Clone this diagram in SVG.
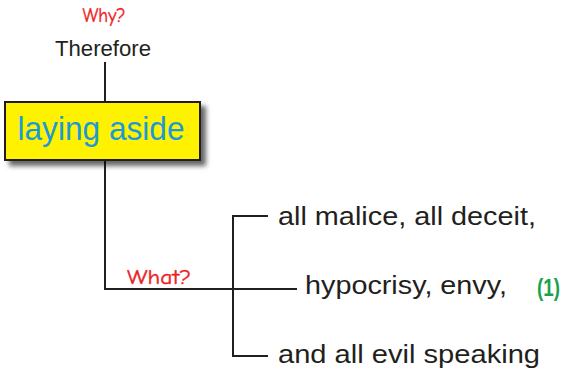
<svg xmlns="http://www.w3.org/2000/svg" width="564" height="372" viewBox="0 0 564 372">
<defs>
<filter id="sh" x="-10%" y="-20%" width="130%" height="150%">
<feDropShadow dx="5" dy="5" stdDeviation="2.5" flood-color="#000" flood-opacity="0.6"/>
</filter>
</defs>
<style>
.ln{fill:none;stroke:#231f20;stroke-width:2}
.q{font-family:"Comic Sans MS","Comic Neue","DejaVu Sans",sans-serif;fill:#ed1c24;font-size:21px;stroke:#ed1c24;stroke-width:0.4}
.t{font-family:"Liberation Sans",Arial,Helvetica,sans-serif;fill:#231f20}
</style>
<rect width="564" height="372" fill="#fff"/>
<g id="connectors">
<path class="ln" d="M105,62 V102"/>
<path class="ln" d="M105,160 V289 H297"/>
<path class="ln" d="M268,216 H233 V356 H268"/>
</g>
<g id="why"><text class="q" x="104" y="22" text-anchor="middle" textLength="43" lengthAdjust="spacingAndGlyphs">Why?</text></g>
<g id="therefore"><text class="t" x="103" y="56" font-size="22" text-anchor="middle" textLength="96" lengthAdjust="spacingAndGlyphs">Therefore</text></g>
<g id="laying-aside">
<rect x="5" y="102" width="195" height="58" fill="#fff200" stroke="#231f20" stroke-width="2" filter="url(#sh)"/>
<text x="101" y="140" font-family="Liberation Sans,Arial,sans-serif" font-size="33" fill="#1d9ad6" text-anchor="middle" textLength="167" lengthAdjust="spacingAndGlyphs">laying aside</text>
</g>
<g id="what"><text class="q" x="127" y="284" textLength="64" lengthAdjust="spacingAndGlyphs">What?</text></g>
<g id="item1"><text class="t" x="278" y="225" font-size="26" textLength="258" lengthAdjust="spacingAndGlyphs">all malice, all deceit,</text></g>
<g id="item2"><text class="t" x="305" y="294" font-size="26" textLength="202" lengthAdjust="spacingAndGlyphs">hypocrisy, envy,</text>
<text x="537" y="296" font-family="Liberation Sans,Arial,sans-serif" font-size="23" font-weight="bold" fill="#1ba24a" textLength="23" lengthAdjust="spacingAndGlyphs">(1)</text></g>
<g id="item3"><text class="t" x="278" y="363" font-size="26" textLength="262" lengthAdjust="spacingAndGlyphs">and all evil speaking</text></g>
</svg>
